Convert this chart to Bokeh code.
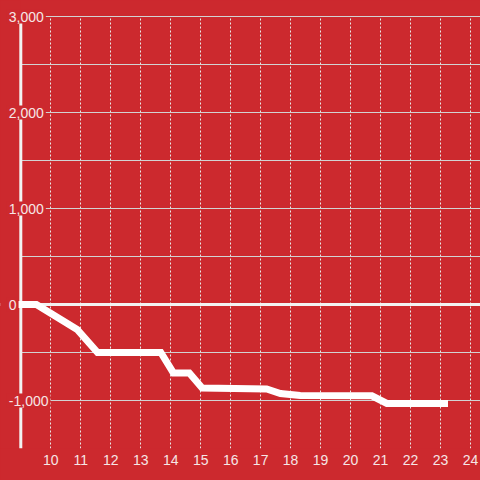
from bokeh.plotting import figure
from bokeh.models import FixedTicker, Label, Range1d
from bokeh.embed import file_html
from bokeh.resources import INLINE

BG = "#cc292e"
TEXT = "#f6e6e6"
FONT = "Liberation Sans"

# data
x_vals = [8.9, 9.52, 10.88, 11.56, 13.67, 14.09, 14.62, 15.05, 17.2, 17.66, 18.32, 20.71, 21.21, 23.25]
y_vals = [0, 0, -260, -500, -500, -713, -713, -870, -880, -927, -948, -951, -1031, -1031]

x_ticks = list(range(10, 25))
y_grid_ticks = [-1500, -1000, -500, 0, 500, 1000, 1500, 2000, 2500, 3000]
y_label_values = [-1000, 0, 1000, 2000, 3000]
y_labels = ["-1,000", "0", "1,000", "2,000", "3,000"]
x_axis_at = 9
x_start, x_end = 8.323, 24.333
y_start, y_end = -1500, 3166.7
y_top = 3000

p = figure(width=480, height=480, output_backend="svg", toolbar_location=None,
           x_range=Range1d(x_start, x_end), y_range=Range1d(y_start, y_end),
           min_border_left=0, min_border_right=0, min_border_top=0, min_border_bottom=32)
p.background_fill_color = BG
p.border_fill_color = BG
p.outline_line_color = None

p.xaxis.ticker = FixedTicker(ticks=x_ticks)
p.xaxis.axis_line_color = None
p.xaxis.major_tick_line_color = None
p.xaxis.major_tick_out = 0
p.xaxis.minor_tick_line_color = None
p.xaxis.minor_tick_out = 0
p.xaxis.major_label_text_color = TEXT
p.xaxis.major_label_text_font = FONT
p.xaxis.major_label_text_font_size = "14px"
p.xaxis.major_label_standoff = 6

p.yaxis.visible = False
p.ygrid.ticker = FixedTicker(ticks=y_grid_ticks)

p.xgrid.grid_line_color = "#e8e8e8"
p.xgrid.grid_line_dash = "2 2"
p.xgrid.cross_bounds = (y_start, y_top)
p.ygrid.grid_line_color = "#d2d2d2"
p.ygrid.cross_bounds = (x_axis_at, x_end)

# zero line
p.hspan(y=[0], line_color="#f2f2f2", line_width=3)
# keep the area left of the y axis plain
p.quad(left=[x_start], right=[x_axis_at], bottom=[y_start], top=[y_end],
       fill_color=BG, line_color=None)
# y axis line
p.segment(x0=[x_axis_at], y0=[y_start], x1=[x_axis_at], y1=[y_top],
          line_color="#f2f2f2", line_width=3)
# data
p.line(x_vals, y_vals, line_color="#ffffff", line_width=7, line_join="miter")

for v, t in zip(y_label_values, y_labels):
    p.add_layout(Label(x=x_axis_at, y=v, text=t, x_offset=-14, text_align="left",
                       text_baseline="middle", text_font_size="14px", text_font=FONT,
                       text_color=TEXT, background_fill_color=BG, padding=2))

html = file_html(p, INLINE, title="chart")
html = html.replace("</head>", "<style>body{background:#cc292e;overflow:hidden}</style></head>", 1)
open("out.html", "w").write(html)
